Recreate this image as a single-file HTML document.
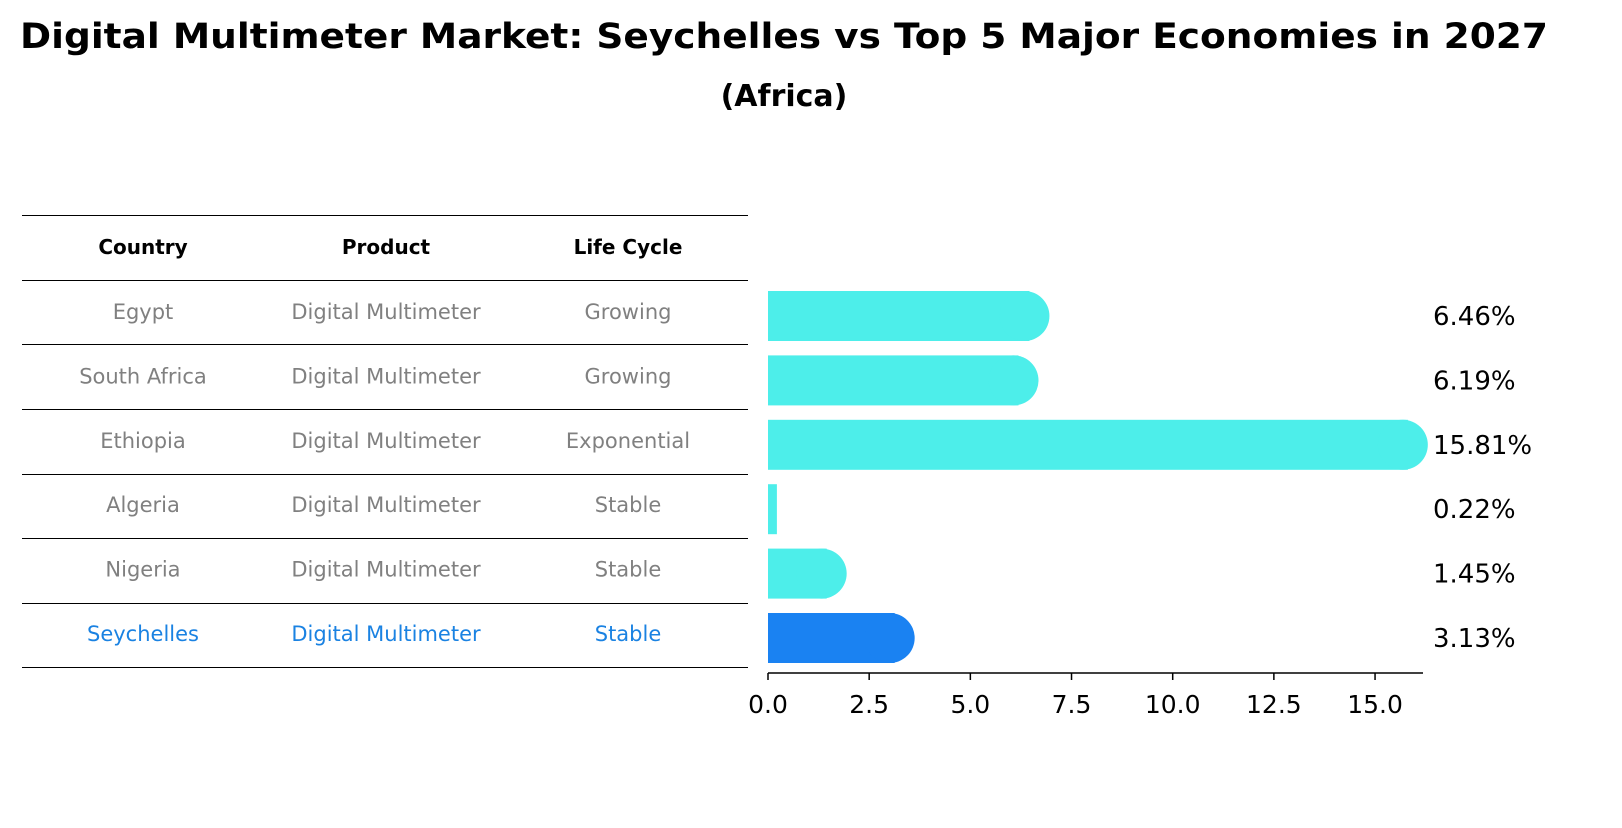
<!DOCTYPE html>
<html><head><meta charset="utf-8"><style>
body{margin:0;background:#fff;width:1622px;height:823px;overflow:hidden;font-family:"Liberation Sans","DejaVu Sans",sans-serif}
</style></head><body>
<svg width="1622" height="823" xmlns="http://www.w3.org/2000/svg">
<text x="784" y="48" text-anchor="middle" font-size="35" font-weight="bold" font-family="DejaVu Sans, sans-serif" textLength="1528" lengthAdjust="spacingAndGlyphs">Digital Multimeter Market: Seychelles vs Top 5 Major Economies in 2027</text>
<text x="784" y="106" text-anchor="middle" font-size="30" font-weight="bold" font-family="DejaVu Sans, sans-serif">(Africa)</text>
<g id="table" font-family="DejaVu Sans, sans-serif"></g>
<g id="bars"></g>
</svg>
<script>
const countries=["Egypt","South Africa","Ethiopia","Algeria","Nigeria","Seychelles"];
const products=["Digital Multimeter","Digital Multimeter","Digital Multimeter","Digital Multimeter","Digital Multimeter","Digital Multimeter"];
const lifecycle=["Growing","Growing","Exponential","Stable","Stable","Stable"];
const values=[6.46,6.19,15.81,0.22,1.45,3.13];
const ticks=[0,2.5,5,7.5,10,12.5,15];
const NS="http://www.w3.org/2000/svg";
function mk(t,a,p){const e=document.createElementNS(NS,t);for(const k in a)e.setAttribute(k,a[k]);p.appendChild(e);return e;}
const x=v=>768+v*40.47;
const rowY=i=>312+i*64.4;
const tb=document.getElementById('table'),bg=document.getElementById('bars');
const lines=[215,280,344,409,474,538,603,667];
lines.forEach(y=>{const l=mk('line',{x1:22,x2:748,y1:y+0.5,y2:y+0.5,stroke:'#000','stroke-width':1},tb);

});
const cols=[143,386,628];
["Country","Product","Life Cycle"].forEach((h,j)=>{const t=mk('text',{x:cols[j],y:254,'text-anchor':'middle','font-size':20,'font-weight':'bold'},tb);t.textContent=h;

});
countries.forEach((c,i)=>{
 const col=i===countries.length-1?'#1a82e2':'#808080';
 [c,products[i],lifecycle[i]].forEach((s,j)=>{const t=mk('text',{x:cols[j],y:rowY(i)+7,'text-anchor':'middle','font-size':21,fill:col},tb);t.textContent=s;
 
 });
 const v=values[i],xe=x(v),cy=rowY(i)+4,fill=i===countries.length-1?'#1a82f2':'#4deeea';
 const g=mk('g',{},bg);
 
 
 mk('rect',{x:768,y:cy-25,width:Math.max(xe-768,1),height:50,fill:fill},g);
 if(xe-768>30) mk('circle',{cx:xe-5,cy:cy,r:25,fill:fill},g);
 const lt=mk('text',{x:1433,y:cy+9,'font-size':26,fill:'#000','font-family':'DejaVu Sans, sans-serif'},bg);lt.textContent=v.toFixed(2)+'%';
 
 
});
const ax=mk('line',{x1:768,x2:1423,y1:673,y2:673,stroke:'#000','stroke-width':1.5},bg);


ticks.forEach(t=>{mk('line',{x1:x(t),x2:x(t),y1:673,y2:680,stroke:'#000','stroke-width':1.5},bg);
 const tx=mk('text',{x:x(t),y:713,'text-anchor':'middle','font-size':25,'font-family':'DejaVu Sans, sans-serif'},bg);tx.textContent=t.toFixed(1);
 
 });
</script>
</body></html>
